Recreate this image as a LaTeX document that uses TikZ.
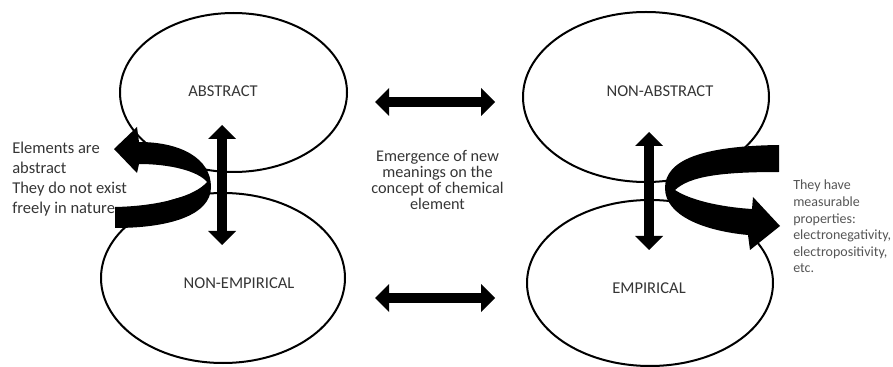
\documentclass[tikz,border=0pt]{standalone}
\usepackage{fontspec}
\setmainfont{Carlito}
\usetikzlibrary{arrows.meta,shapes.geometric}
\definecolor{ink}{HTML}{000000}
\definecolor{txt}{HTML}{353535}
\definecolor{note}{HTML}{555555}
\begin{document}
\begin{tikzpicture}[x=0.75pt,y=-0.75pt,
  loop/.style={ellipse, draw=ink, line width=1.5pt, inner sep=0pt, outer sep=0pt},
  blockarrow/.style={draw=ink, line width=7.8pt,
    {Triangle[length=10.5pt,width=21pt,line width=0pt]}-{Triangle[length=10.5pt,width=21pt,line width=0pt]}},
  bandarrow/.style={fill=ink},
  tag/.style={font=\fontsize{12.4}{14.8}\selectfont, text=txt, anchor=base, inner sep=0pt},
  textblock/.style={inner sep=0pt, text=txt},
]
\useasboundingbox (0,0) rectangle (893,367);

% the four loops of the two "figure eight" pairs
\node[loop, minimum width=170.25pt, minimum height=119.25pt] (abs)  at (233.5,92.5) {};
\node[loop, minimum width=183pt,    minimum height=127.5pt]  (nemp) at (223,278) {};
\node[loop, minimum width=184.5pt,  minimum height=127.5pt]  (nabs) at (646,97) {};
\node[loop, minimum width=184.5pt,  minimum height=124.5pt]  (emp)  at (650,283) {};

% names of the loops
\node[tag] (absT)  at (223,96.7) {ABSTRACT};
\node[tag] (nempT) at (239,288)  {NON-EMPIRICAL};
\node[tag] (nabsT) at (660,96.7) {NON-ABSTRACT};
\node[tag] (empT)  at (649,293)  {EMPIRICAL};

% side notes and the central statement
\node[textblock, anchor=base west] (leftnote) at (12,154)
  {\parbox[t]{110pt}{\raggedright\fontsize{12.4}{14.8}\selectfont
   Elements are\\abstract\\They do not exist\\freely in nature}};
\node[textblock, anchor=base] (middle) at (437.5,162)
  {\parbox[t]{120pt}{\centering\fontsize{12.2}{12}\selectfont
   Emergence of new\\meanings on the\\concept of chemical\\element}};
\node[textblock, text=note, anchor=base west] (rightnote) at (793,190)
  {\parbox[t]{90pt}{\raggedright\fontsize{10.5}{12.45}\selectfont
   They have\\measurable\\properties:\\electronegativity,\\electropositivity,\\etc.}};

% curved block arrow turning back to the left
\fill[bandarrow] (115,207) -- (115,228)
  .. controls (170,228) and (211,215) .. (211,187)
  .. controls (211,158) and (180,142) .. (139,142)
  -- (137,127) -- (114,149) -- (137,173) -- (139,164)
  .. controls (170,164) and (198,171) .. (207,182)
  .. controls (195,196) and (160,206) .. (115,207) -- cycle;

% curved block arrow turning back to the right
\fill[bandarrow] (779,145) -- (779,172)
  .. controls (722,172) and (690,176) .. (675,190)
  .. controls (690,200) and (720,207) .. (752,209)
  -- (753,197) -- (780,226) -- (750,250) -- (748,235)
  .. controls (705,231) and (665,216) .. (665,188)
  .. controls (665,160) and (702,146) .. (779,145) -- cycle;

% straight double arrows
\coordinate (topW) at (375,102);
\coordinate (topE) at (495,102);
\coordinate (botW) at (375,298);
\coordinate (botE) at (495,298);
\coordinate (lN) at (222,125);
\coordinate (lS) at (222,245);
\coordinate (rN) at (649,132);
\coordinate (rS) at (649,250);
\draw[blockarrow] (topW) -- (topE);
\draw[blockarrow] (botW) -- (botE);
\draw[blockarrow] (lN) -- (lS);
\draw[blockarrow] (rN) -- (rS);
\end{tikzpicture}
\end{document}
